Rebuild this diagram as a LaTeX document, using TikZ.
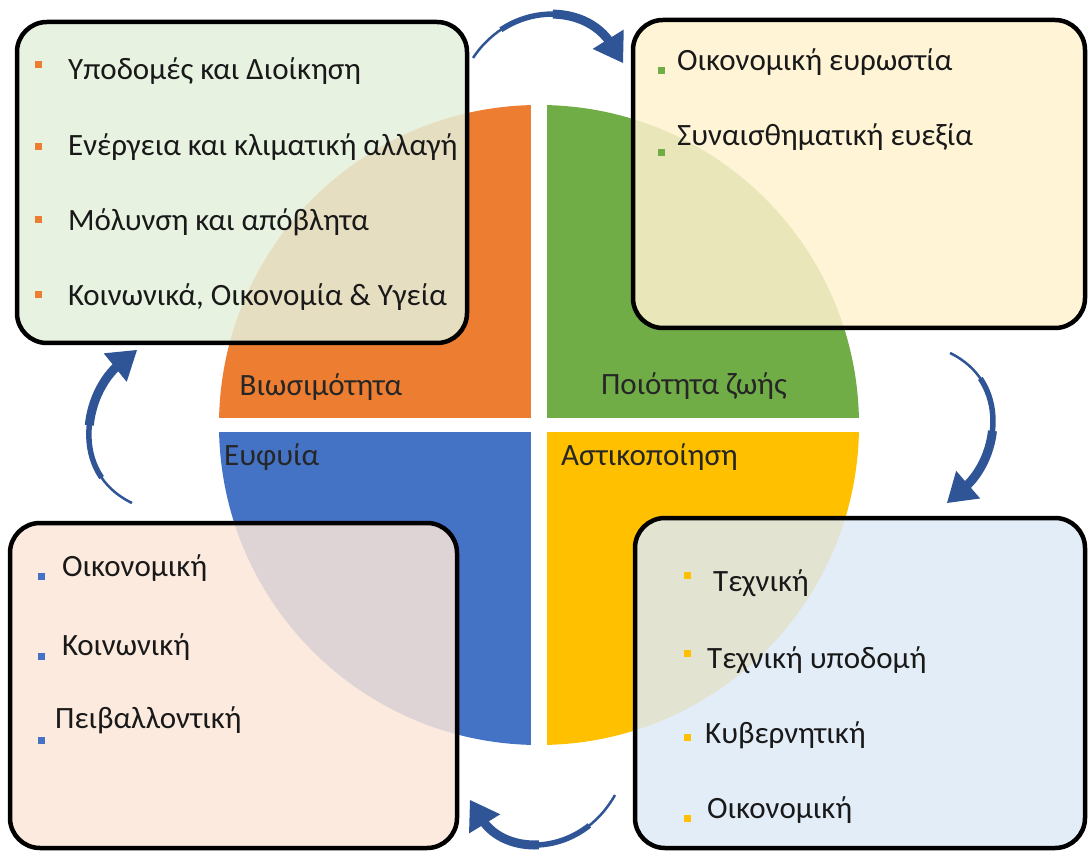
\documentclass[tikz,border=0pt]{standalone}
\usepackage{fontspec}
\setmainfont{Carlito}
\usetikzlibrary{arrows.meta}

\definecolor{pieorange}{RGB}{237,125,49}
\definecolor{piegreen}{RGB}{112,173,71}
\definecolor{pieblue}{RGB}{68,114,196}
\definecolor{pieyellow}{RGB}{255,192,0}
\definecolor{cyclecol}{RGB}{47,85,151}
\definecolor{boxgreen}{RGB}{228,240,219}
\definecolor{boxcream}{RGB}{255,242,206}
\definecolor{boxpeach}{RGB}{251,230,216}
\definecolor{boxblue}{RGB}{222,234,246}

\begin{document}
\begin{tikzpicture}[x=1pt,y=1pt,
  listbox/.style={draw=black,line width=4.5pt,rounded corners=30pt,
                  fill opacity=0.85,inner sep=0pt},
  item/.style={anchor=base west,inner sep=0pt,text=black!90,
               font=\fontsize{31}{35}\selectfont},
  pielabel/.style={anchor=base,inner sep=0pt,text=black!85,
                   font=\fontsize{31}{35}\selectfont},
  cyclearrow/.style={draw=cyclecol,line width=2.5pt,
                     -{Triangle[width=36pt,length=28pt]}},
  % thicker layers laid over the end part of the same curve (taper)
  cyclebody/.style={draw=cyclecol,line width=#1,shorten >=22pt}]
  \useasboundingbox (0,0) rectangle (1091,852);

  % pie ------------------------------------------------------------------------
  \coordinate (hub) at (539,427);
  \fill[pieorange] (hub) -- ++(180:320) arc[start angle=180,end angle=90,radius=320] -- cycle;
  \fill[piegreen]  (hub) -- ++(90:320)  arc[start angle=90,end angle=0,radius=320] -- cycle;
  \fill[pieyellow] (hub) -- ++(0:320)   arc[start angle=0,end angle=-90,radius=320] -- cycle;
  \fill[pieblue]   (hub) -- ++(-90:320) arc[start angle=-90,end angle=-180,radius=320] -- cycle;
  % white gaps between the quarters
  \fill[white] (531,100) rectangle (547,760);
  \fill[white] (210,420) rectangle (870,434);

  \node[pielabel] (sustlbl)  at (321,456) {Βιωσιμότητα};
  \node[pielabel] (lifelbl)  at (694,457) {Ποιότητα ζωής};
  \node[pielabel,anchor=base west] (smartlbl) at (224,386) {Ευφυία};
  \node[pielabel,anchor=base west] (urblbl)   at (561,386) {Αστικοποίηση};

  % boxes ----------------------------------------------------------------------
  \node[listbox,fill=boxgreen,minimum width=450pt,minimum height=321pt] (sustbox)  at (242,669.5) {};
  \node[listbox,fill=boxcream,minimum width=452pt,minimum height=308pt] (lifebox)  at (859,678) {};
  \node[listbox,fill=boxpeach,minimum width=447pt,minimum height=325pt] (smartbox) at (233.5,166.5) {};
  \node[listbox,fill=boxblue, minimum width=450pt,minimum height=330pt] (urbbox)   at (860,169) {};

  %  sustainability items
  \fill[pieorange] (35,783.5) rectangle ++(7,7);
  \fill[pieorange] (35,701.5) rectangle ++(7,7);
  \fill[pieorange] (35,628.5) rectangle ++(7,7);
  \fill[pieorange] (35,553.5) rectangle ++(7,7);
  \node[item] (s1) at (68,772) {Υποδομές και Διοίκηση};
  \node[item] (s2) at (68,696) {Ενέργεια και κλιματική αλλαγή};
  \node[item] (s3) at (68,621) {Μόλυνση και απόβλητα};
  \node[item] (s4) at (68,546) {Κοινωνικά, Οικονομία \& Υγεία};

  %  quality of life items
  \fill[piegreen] (657.5,777.5) rectangle ++(7,7);
  \fill[piegreen] (657.5,695.5) rectangle ++(7,7);
  \node[item] (q1) at (677,781) {Οικονομική ευρωστία};
  \node[item] (q2) at (677,706) {Συναισθηματική ευεξία};

  %  smartness items
  \fill[pieblue] (37.5,272.5) rectangle ++(7,7);
  \fill[pieblue] (37.5,192.5) rectangle ++(7,7);
  \fill[pieblue] (37.5,108.5) rectangle ++(7,7);
  \node[item] (g1) at (62,276) {Οικονομική};
  \node[item] (g2) at (62,197) {Κοινωνική};
  \node[item] (g3) at (55,124) {Πειβαλλοντική};

  %  urbanisation items
  \fill[pieyellow] (683.5,273.5) rectangle ++(7,7);
  \fill[pieyellow] (683.5,195.5) rectangle ++(7,7);
  \fill[pieyellow] (683.5,111.5) rectangle ++(7,7);
  \fill[pieyellow] (683.5,30.5)  rectangle ++(7,7);
  \node[item] (u1) at (713,261) {Τεχνική};
  \node[item] (u2) at (707,184) {Τεχνική υποδομή};
  \node[item] (u3) at (705,109) {Κυβερνητική};
  \node[item] (u4) at (707,34)  {Οικονομική};

  % cycle arrows ---------------------------------------------------------------
  \coordinate (topfrom) at (473,794);  \coordinate (topto) at (623,789);
  \coordinate (rgtfrom) at (950,499);  \coordinate (rgtto) at (947,349);
  \coordinate (botfrom) at (615,57);   \coordinate (botto) at (470,52);
  \coordinate (lftfrom) at (132,349);  \coordinate (lftto) at (137,502);

  \draw[cyclearrow] (topfrom) .. controls (510,850) and (585,850) .. (topto);
  \draw[cyclebody=5.5pt,dash pattern=on 0pt off 40pt on 400pt] (topfrom) .. controls (510,850) and (585,850) .. (topto);
  \draw[cyclebody=9pt,dash pattern=on 0pt off 95pt on 400pt]   (topfrom) .. controls (510,850) and (585,850) .. (topto);

  \draw[cyclearrow] (rgtfrom) .. controls (1010,470) and (1000,395) .. (rgtto);
  \draw[cyclebody=5.5pt,dash pattern=on 0pt off 40pt on 400pt] (rgtfrom) .. controls (1010,470) and (1000,395) .. (rgtto);
  \draw[cyclebody=9pt,dash pattern=on 0pt off 95pt on 400pt]   (rgtfrom) .. controls (1010,470) and (1000,395) .. (rgtto);

  \draw[cyclearrow] (botfrom) .. controls (580,-5) and (505,-5) .. (botto);
  \draw[cyclebody=5.5pt,dash pattern=on 0pt off 40pt on 400pt] (botfrom) .. controls (580,-5) and (505,-5) .. (botto);
  \draw[cyclebody=9pt,dash pattern=on 0pt off 95pt on 400pt]   (botfrom) .. controls (580,-5) and (505,-5) .. (botto);

  \draw[cyclearrow] (lftfrom) .. controls (68,380) and (85,460) .. (lftto);
  \draw[cyclebody=5.5pt,dash pattern=on 0pt off 40pt on 400pt] (lftfrom) .. controls (68,380) and (85,460) .. (lftto);
  \draw[cyclebody=9pt,dash pattern=on 0pt off 95pt on 400pt]   (lftfrom) .. controls (68,380) and (85,460) .. (lftto);
\end{tikzpicture}
\end{document}
